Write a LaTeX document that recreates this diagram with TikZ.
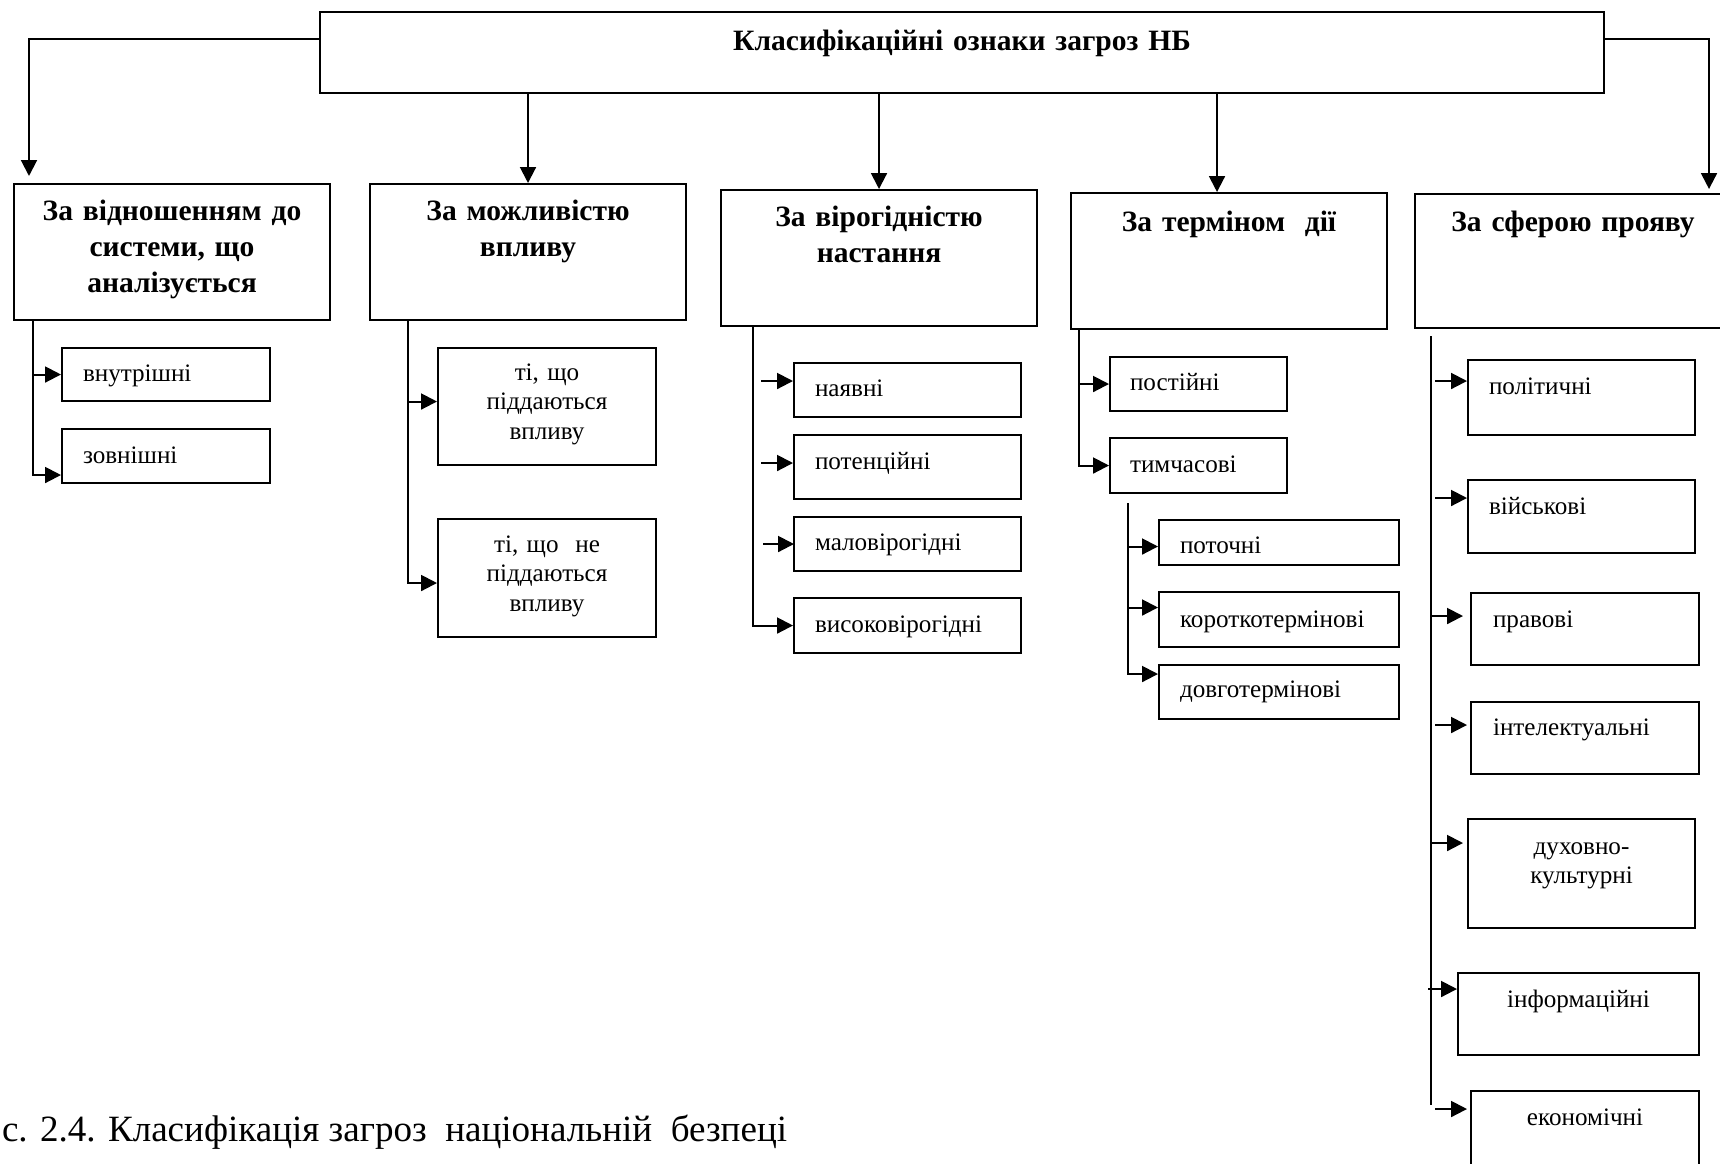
\documentclass[tikz,border=0pt]{standalone}
\usepackage{fontspec}
\setmainfont{Liberation Serif}
\usetikzlibrary{calc,arrows.meta}

\newlength\pxl
\setlength\pxl{0.02cm}
\newcommand\catfont{\fontsize{16.8}{20.5}\selectfont\bfseries}
\newcommand\subfont{\fontsize{14.3}{16.8}\selectfont}

\begin{document}
\begin{tikzpicture}[x=0.02cm,y=-0.02cm,line width=1.15pt,
    box/.style={draw,anchor=north west,inner ysep=0pt},
    kat/.style={box,font=\catfont,align=center,inner xsep=10\pxl,text width=296\pxl},
    pid/.style={box,font=\subfont,align=left,inner xsep=21\pxl},
    hw/.style 2 args={text height=#1\pxl,text depth=#2\pxl},
    arr/.style={-{Triangle[length=9pt,width=9pt]}}]
\useasboundingbox (0,0) rectangle (1720,1163);

% golovnyi blok
\node[box,font=\catfont,align=center,inner xsep=10\pxl,text width=1264\pxl,hw={38}{43}] (top) at (319,11) {Класифікаційні ознаки загроз НБ};

% oznaky
\node[kat,hw={36}{100}] (c1) at (13,183) {За відношенням до\\системи, що\\аналізується};
\node[kat,hw={36}{100}] (c2) at (369,183) {За можливістю\\впливу};
\node[kat,hw={36}{100}] (c3) at (720,189) {За вірогідністю\\настання};
\node[kat,hw={38}{98}] (c4) at (1070,192) {За терміном~~дії};
\node[kat,hw={37}{97}] (c5) at (1414,193) {За сферою прояву};

\draw[arr] ($(top.west)+(0,-14)$) -| ($(c1.north west)+(16,-7)$);
\draw[arr] ($(top.east)+(0,-14)$) -| ($(c5.north east)+(-23,-4)$);
\draw[arr] (top.south -| c2.north) -- (c2.north);
\draw[arr] (top.south -| c3.north) -- (c3.north);
\coordinate (a4) at ($(c4.north)+(-12,0)$);
\draw[arr] (top.south -| a4) -- (a4);

% 1
\node[pid,text width=166\pxl,hw={33}{20}] (vn) at (61,347) {внутрішні};
\node[pid,text width=166\pxl,hw={34}{20}] (zv) at (61,428) {зовнішні};
\coordinate (t1) at ($(c1.south west)+(20,0)$);
\draw[arr] (t1) |- (vn.west);
\draw[arr] (t1) |- ($(zv.west)+(0,19)$);

% 2
\node[pid,align=center,text width=176\pxl,hw={32}{85}] (p1) at (437,347) {ті, що\\піддаються\\впливу};
\node[pid,align=center,text width=176\pxl,hw={33}{85}] (p2) at (437,518) {ті, що~~не\\піддаються\\впливу};
\coordinate (t2) at ($(c2.south west)+(39,0)$);
\draw[arr] (t2) |- ($(p1.west)+(0,-5)$);
\draw[arr] (t2) |- ($(p2.west)+(0,5)$);

% 3
\node[pid,text width=185\pxl,hw={33}{21}] (n1) at (793,362) {наявні};
\node[pid,text width=185\pxl,hw={34}{30}] (n2) at (793,434) {потенційні};
\node[pid,text width=185\pxl,hw={33}{21}] (n3) at (793,516) {маловірогідні};
\node[pid,text width=185\pxl,hw={34}{21}] (n4) at (793,597) {високовірогідні};
\coordinate (t3) at ($(c3.south west)+(33,0)$);
\draw[arr] (t3) |- (n4.west);
\draw[arr] ($(n1.west)+(-32,-9)$) -- ($(n1.west)+(0,-9)$);
\draw[arr] ($(n2.west)+(-32,-4)$) -- ($(n2.west)+(0,-4)$);
\draw[arr] ($(n3.west)+(-30,0)$) -- ($(n3.west)+(1,0)$);

% 4
\node[pid,inner xsep=20\pxl,text width=137\pxl,hw={33}{21}] (k1) at (1109,356) {постійні};
\node[pid,inner xsep=20\pxl,text width=137\pxl,hw={34}{21}] (k2) at (1109,437) {тимчасові};
\coordinate (t4) at ($(c4.south west)+(9,0)$);
\draw[arr] (t4) |- (k1.west);
\draw[arr] (t4) |- (k2.west);

\node[pid,text width=198\pxl,hw={33}{12}] (s1) at (1158,519) {поточні};
\node[pid,text width=198\pxl,hw={35}{20}] (s2) at (1158,591) {короткотермінові};
\node[pid,text width=198\pxl,hw={32}{22}] (s3) at (1158,664) {довготермінові};
\coordinate (t4b) at ($(k2.south west)+(19,9)$);
\draw[arr] (t4b) |- ($(s1.west)+(0,4)$);
\draw[arr] (t4b) |- ($(s2.west)+(0,-12)$);
\draw[arr] (t4b) |- ($(s3.west)+(0,-18)$);

% 5
\node[pid,text width=185\pxl,hw={34}{41}] (f1) at (1467,359) {політичні};
\node[pid,text width=185\pxl,hw={34}{39}] (f2) at (1467,479) {військові};
\node[pid,inner xsep=22\pxl,text width=184\pxl,hw={34}{38}] (f3) at (1470,592) {правові};
\node[pid,inner xsep=22\pxl,text width=184\pxl,hw={33}{39}] (f4) at (1470,701) {інтелектуальні};
\node[pid,align=center,text width=185\pxl,hw={35}{74}] (f5) at (1467,818) {духовно-\\культурні};
\node[pid,align=center,text width=199\pxl,hw={34}{48}] (f6) at (1457,972) {інформаційні};
\node[pid,align=center,text width=186\pxl,hw={34}{56}] (f7) at (1470,1090) {економічні};
\coordinate (t5) at ($(c5.south west)+(17,7)$);
\draw (t5) -- ($(t5 |- f7.north)+(0,15)$);
\draw[arr] ($(f1.west)+(-32,-16.5)$) -- ($(f1.west)+(0,-16.5)$);
\draw[arr] ($(f2.west)+(-32,-18.5)$) -- ($(f2.west)+(0,-18.5)$);
\draw[arr] ($(t5 |- f3.west)+(0,-13)$) -- ($(f3.west)+(-7,-13)$);
\draw[arr] ($(f4.west)+(-35,-13)$) -- ($(f4.west)+(-3,-13)$);
\draw[arr] ($(t5 |- f5.west)+(0,-30.5)$) -- ($(f5.west)+(-4,-30.5)$);
\draw[arr] ($(f6.west)+(-29,-25)$) -- ($(f6.west)+(0,-25)$);
\draw[arr] ($(f7.west)+(-35,-27)$) -- ($(f7.west)+(-3,-27)$);

% pidpys
\node[anchor=base west,inner sep=0pt,font=\fontsize{21.1}{25}\selectfont] (cap) at (1,1141) {с. 2.4. Класифікація загроз~~національній~~безпеці};
\end{tikzpicture}
\end{document}
